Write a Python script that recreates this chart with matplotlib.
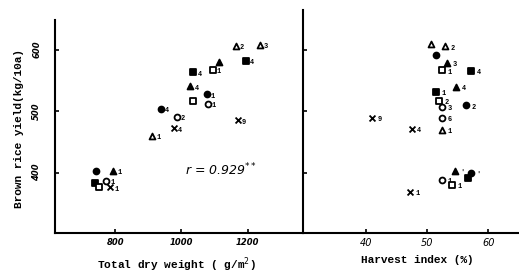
import matplotlib.pyplot as plt

# marker kinds: fc = filled circle, oc = open circle, fs = filled square,
# os = open square, ft = filled triangle, ot = open triangle, x = cross
tdw_kind = ["ot", "ot", "fs", "ft", "os", "fs", "ft", "fc", "os", "oc", "fc",
            "oc", "x", "x", "ot", "fc", "ft", "fs", "oc", "os", "x"]
tdw_x = [1164, 1236, 1194, 1112, 1094, 1036, 1027, 1076, 1036, 1079, 939,
         985, 1170, 976, 912, 742, 794, 739, 773, 752, 785]
tdw_y = [606, 608, 582, 579, 567, 563, 540, 527, 517, 512, 504,
         491, 485, 472, 460, 402, 403, 384, 387, 376, 376]
tdw_lab = ["2", "3", "4", "", "1", "4", "4", "1", "", "1", "4",
           "2", "9", "4", "1", "", "1", "", "1", "", "1"]

hi_kind = ["ot", "ot", "fc", "ft", "os", "fs", "ft", "fs", "os", "oc", "fc",
           "oc", "x", "ot", "x", "ft", "fc", "fs", "oc", "os", "x"]
hi_x = [50.7, 53.0, 51.4, 53.3, 52.5, 57.2, 54.8, 51.4, 52.0, 52.4, 56.4,
        52.5, 47.5, 52.4, 41.0, 54.6, 57.1, 56.7, 52.5, 54.1, 47.3]
hi_y = [610, 606, 592, 579, 567, 566, 540, 532, 517, 507, 510,
        489, 472, 470, 489, 403, 400, 392, 389, 380, 369]
hi_lab = ["", "2", "", "3", "1", "4", "4", "1", "2", "3", "2",
          "6", "4", "1", "9", "'", "'", "", "1", "1", "1"]

styles = {
    "fc": ("o", "black"),
    "oc": ("o", "white"),
    "fs": ("s", "black"),
    "os": ("s", "white"),
    "ft": ("^", "black"),
    "ot": ("^", "white"),
    "x": ("x", "black"),
}

mono = "Liberation Mono"

fig = plt.figure(figsize=(5.19, 2.73), dpi=100)
ax1 = fig.add_axes([55 / 519, 40 / 273, 248 / 519, 213 / 273])
ax2 = fig.add_axes([303 / 519, 40 / 273, 216 / 519, 223 / 273])


def draw(ax, kinds, xs, ys, labs, dx):
    for k, x, y, t in zip(kinds, xs, ys, labs):
        m, fc = styles[k]
        ax.scatter([x], [y], s=18, marker=m, facecolors=fc,
                   edgecolors="black", linewidths=1.3, zorder=3)
        if t:
            ax.text(x + dx, y - 3, t, fontsize=5, fontweight="bold",
                    fontfamily=mono, va="center")


draw(ax1, tdw_kind, tdw_x, tdw_y, tdw_lab, 12)
draw(ax2, hi_kind, hi_x, hi_y, hi_lab, 0.9)

ax1.set_xlim(618, 1367)
ax1.set_ylim(302, 648)
ax2.set_xlim(29.8, 65)
ax2.set_ylim(302, 665)

for ax in (ax1, ax2):
    ax.spines["top"].set_visible(False)
    ax.spines["right"].set_visible(False)
    ax.spines["left"].set_linewidth(1.5)
    ax.spines["bottom"].set_linewidth(1.5)
    ax.tick_params(direction="in", length=3, width=1.2, labelsize=6)

ax1.set_yticks([400, 500, 600])
ax1.set_yticklabels(["400", "500", "600"], rotation=90, va="center",
                    fontstyle="italic", fontweight="bold")
ax1.tick_params(axis="y", pad=10)
ax1.set_xticks([800, 1000, 1200])
ax1.set_xticklabels(["800", "1000", "1200"], fontstyle="italic",
                    fontweight="bold")
ax2.set_yticks([400, 500, 600])
ax2.set_yticklabels([])
ax2.set_xticks([40, 50, 60])
ax2.set_xticklabels(["40", "50", "60"], fontstyle="italic", fontsize=7)

ax1.text(1012, 405, "r = 0.929$^{**}$", fontsize=9, fontstyle="italic",
         va="center")

ax1.set_xlabel("Total dry weight ( g/m$^2$)", fontfamily=mono,
               fontweight="bold", fontsize=8)
ax1.xaxis.set_label_coords(0.49, -0.105)
ax2.set_xlabel("Harvest index (%)", fontfamily=mono, fontweight="bold",
               fontsize=8)
ax2.xaxis.set_label_coords(0.53, -0.10)
ax1.set_ylabel("Brown rice yield(kg/10a)", fontfamily=mono,
               fontweight="bold", fontsize=8)
ax1.yaxis.set_label_coords(-0.125, 0.49)

fig.savefig("out.png", dpi=100)
